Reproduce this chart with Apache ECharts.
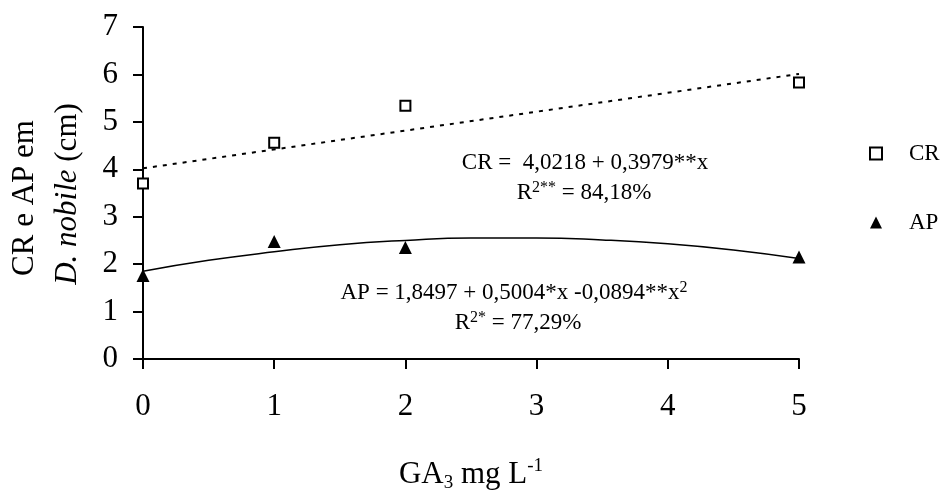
<!DOCTYPE html>
<html>
<head>
<meta charset="utf-8">
<script src="https://cdn.jsdelivr.net/npm/echarts@6/dist/echarts.min.js"></script>
<style>
  html, body { margin: 0; padding: 0; background: #fff; }
  #chart { width: 944px; height: 498px; }
</style>
</head>
<body>
<div id="chart"></div>
<script type="text/javascript">
    // dados
    var doseX = [0, 1, 2, 5];
    var crValues = [3.70, 4.56, 5.34, 5.83];
    var apValues = [1.76, 2.48, 2.35, 2.15];

    // linhas de tendência
    var crFitX = [0, 5];
    var crFitY = [4.02, 6.01];
    var apFitX = [0, 0.5, 1, 1.5, 2, 2.5, 3, 3.5, 4, 4.5, 5];
    var apFitY = [1.85, 2.08, 2.26, 2.41, 2.50, 2.55, 2.55, 2.51, 2.43, 2.30, 2.12];

    var xTicks = [0, 1, 2, 3, 4, 5];
    var yTicks = [0, 1, 2, 3, 4, 5, 6, 7];

    var serif = "'Liberation Serif', 'Times New Roman', serif";

    function pairs(xs, ys) {
        return xs.map(function (x, i) { return [x, ys[i]]; });
    }

    var myChart = echarts.init(document.getElementById('chart'));

    var option = {
        backgroundColor: '#fff',
        animation: false,
        grid: { left: 143, right: 145, top: 27, bottom: 131 },
        legend: {
            orient: 'vertical',
            left: 864,
            top: 137,
            itemGap: 46,
            itemWidth: 12,
            itemHeight: 12,
            textStyle: { fontFamily: serif, fontSize: 23, color: '#000', padding: [0, 0, 0, 22] },
            data: [
                { name: 'CR', icon: 'rect', itemStyle: { color: '#fff', borderColor: '#000', borderWidth: 2 } },
                { name: 'AP', icon: 'triangle', itemStyle: { color: '#000' } }
            ]
        },
        xAxis: {
            type: 'value',
            min: 0,
            max: 5,
            interval: 1,
            name: '{a|GA}{sub|3}{a| mg L}{sup|-1}',
            nameLocation: 'middle',
            nameGap: 98,
            nameTextStyle: {
                rich: {
                    a: { fontFamily: serif, fontSize: 31, color: '#000', lineHeight: 36 },
                    sub: { fontFamily: serif, fontSize: 19, color: '#000', verticalAlign: 'bottom', lineHeight: 36 },
                    sup: { fontFamily: serif, fontSize: 19, color: '#000', verticalAlign: 'top', lineHeight: 36 }
                }
            },
            axisLine: { lineStyle: { color: '#000', width: 2 } },
            axisTick: { show: true, inside: false, length: 10, lineStyle: { color: '#000', width: 2 } },
            axisLabel: {
                margin: 32,
                fontFamily: serif,
                fontSize: 31,
                color: '#000',
                formatter: function (v) { return xTicks.indexOf(v) >= 0 ? String(v) : ''; }
            },
            splitLine: { show: false }
        },
        yAxis: {
            type: 'value',
            min: 0,
            max: 7,
            interval: 1,
            axisLine: { show: true, lineStyle: { color: '#000', width: 2 } },
            axisTick: { show: true, inside: false, length: 10, lineStyle: { color: '#000', width: 2 } },
            axisLabel: {
                margin: 25,
                fontFamily: serif,
                fontSize: 31,
                color: '#000',
                formatter: function (v) { return yTicks.indexOf(v) >= 0 ? String(v) : ''; }
            },
            splitLine: { show: false }
        },
        graphic: [
            {
                type: 'text',
                x: 25, y: 198,
                rotation: Math.PI / 2,
                style: {
                    text: 'CR e AP em',
                    fontFamily: serif, fontSize: 31, fill: '#000',
                    align: 'center', verticalAlign: 'middle'
                }
            },
            {
                type: 'text',
                x: 68, y: 194,
                rotation: Math.PI / 2,
                style: {
                    text: '{i|D. nobile}{n| (cm)}',
                    align: 'center', verticalAlign: 'middle',
                    rich: {
                        i: { fontFamily: serif, fontSize: 31, fontStyle: 'italic', fill: '#000' },
                        n: { fontFamily: serif, fontSize: 31, fill: '#000' }
                    }
                }
            },
            {
                type: 'text',
                x: 585, y: 163,
                style: {
                    text: 'CR =  4,0218 + 0,3979**x',
                    fontFamily: serif, fontSize: 23, fill: '#000',
                    align: 'center', verticalAlign: 'middle'
                }
            },
            {
                type: 'text',
                x: 584, y: 193,
                style: {
                    text: '{a|R}{s|2**}{a| = 84,18%}',
                    align: 'center', verticalAlign: 'middle',
                    rich: {
                        a: { fontFamily: serif, fontSize: 23, fill: '#000', lineHeight: 26 },
                        s: { fontFamily: serif, fontSize: 16, fill: '#000', verticalAlign: 'top', lineHeight: 26 }
                    }
                }
            },
            {
                type: 'text',
                x: 514, y: 293,
                style: {
                    text: '{a|AP = 1,8497 + 0,5004*x -0,0894**x}{s|2}',
                    align: 'center', verticalAlign: 'middle',
                    rich: {
                        a: { fontFamily: serif, fontSize: 23, fill: '#000', lineHeight: 26 },
                        s: { fontFamily: serif, fontSize: 16, fill: '#000', verticalAlign: 'top', lineHeight: 26 }
                    }
                }
            },
            {
                type: 'text',
                x: 518, y: 323,
                style: {
                    text: '{a|R}{s|2*}{a| = 77,29%}',
                    align: 'center', verticalAlign: 'middle',
                    rich: {
                        a: { fontFamily: serif, fontSize: 23, fill: '#000', lineHeight: 26 },
                        s: { fontFamily: serif, fontSize: 16, fill: '#000', verticalAlign: 'top', lineHeight: 26 }
                    }
                }
            }
        ],
        series: [
            {
                name: 'CR ajuste',
                type: 'line',
                data: pairs(crFitX, crFitY),
                showSymbol: false,
                silent: true,
                z: 1,
                lineStyle: { color: '#000', width: 2, type: [4, 6] }
            },
            {
                name: 'AP ajuste',
                type: 'line',
                data: pairs(apFitX, apFitY),
                smooth: true,
                showSymbol: false,
                silent: true,
                z: 1,
                lineStyle: { color: '#000', width: 1.5 }
            },
            {
                name: 'CR',
                type: 'scatter',
                data: pairs(doseX, crValues),
                symbol: 'rect',
                symbolSize: 10,
                z: 3,
                itemStyle: { color: '#fff', borderColor: '#000', borderWidth: 2, opacity: 1 }
            },
            {
                name: 'AP',
                type: 'scatter',
                data: pairs(doseX, apValues),
                symbol: 'triangle',
                symbolSize: 13,
                z: 3,
                itemStyle: { color: '#000', opacity: 1 }
            }
        ]
    };

    myChart.setOption(option);
</script>
</body>
</html>
